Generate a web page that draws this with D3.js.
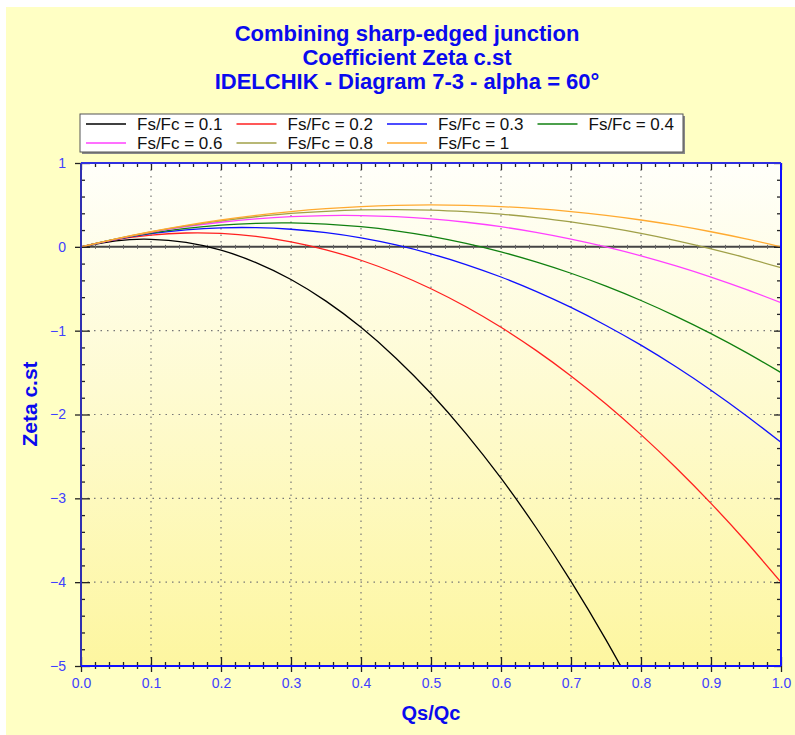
<!DOCTYPE html>
<html>
<head>
<meta charset="utf-8">
<script src="https://cdn.jsdelivr.net/npm/d3@7"></script>
<style>
  body { margin: 0; background: #fff; }
  text { font-family: "Liberation Sans", Arial, sans-serif; }
</style>
</head>
<body>
<div class="chart"></div>
<script>
var svgWidth = 795;
var svgHeight = 735;

// Qs/Qc sample points
var qs = [0, 0.05, 0.1, 0.15, 0.2, 0.25, 0.3, 0.35, 0.4, 0.45, 0.5,
          0.55, 0.6, 0.65, 0.7, 0.75, 0.8, 0.85, 0.9, 0.95, 1.0];

// Zeta c.st values, one array per Fs/Fc
var zeta01 = [0, 0.072, 0.09, 0.052, -0.04, -0.188, -0.39, -0.648, -0.96, -1.328, -1.75,
              -2.228, -2.76, -3.348, -3.99, -4.688, -5.44];
var zeta02 = [0, 0.085, 0.14, 0.165, 0.16, 0.125, 0.06, -0.035, -0.16, -0.315, -0.5,
              -0.715, -0.96, -1.235, -1.54, -1.875, -2.24, -2.635, -3.06, -3.515, -4.0];
var zeta03 = [0, 0.089, 0.157, 0.203, 0.227, 0.229, 0.21, 0.169, 0.107, 0.023, -0.083,
              -0.211, -0.36, -0.531, -0.723, -0.938, -1.173, -1.431, -1.71, -2.011, -2.333];
var zeta04 = [0, 0.091, 0.165, 0.221, 0.26, 0.281, 0.285, 0.271, 0.24, 0.191, 0.125,
              0.041, -0.06, -0.179, -0.315, -0.469, -0.64, -0.829, -1.035, -1.259, -1.5];
var zeta06 = [0, 0.093, 0.173, 0.24, 0.293, 0.333, 0.36, 0.373, 0.373, 0.36, 0.333,
              0.293, 0.24, 0.173, 0.093, 0, -0.107, -0.227, -0.36, -0.507, -0.667];
var zeta08 = [0, 0.094, 0.178, 0.249, 0.31, 0.359, 0.398, 0.424, 0.44, 0.444, 0.438,
              0.419, 0.39, 0.349, 0.298, 0.234, 0.16, 0.074, -0.023, -0.131, -0.25];
var zeta10 = [0, 0.095, 0.18, 0.255, 0.32, 0.375, 0.42, 0.455, 0.48, 0.495, 0.5,
              0.495, 0.48, 0.455, 0.42, 0.375, 0.32, 0.255, 0.18, 0.095, 0];

var seriesNames = ["Fs/Fc = 0.1", "Fs/Fc = 0.2", "Fs/Fc = 0.3", "Fs/Fc = 0.4",
                   "Fs/Fc = 0.6", "Fs/Fc = 0.8", "Fs/Fc = 1"];
var seriesValues = [zeta01, zeta02, zeta03, zeta04, zeta06, zeta08, zeta10];
var seriesColors = ["#000000", "#ff2020", "#1010ff", "#108010", "#ff40ff", "#a0a048", "#ffaa30"];

var titleLines = ["Combining sharp-edged junction", "Coefficient Zeta c.st",
                  "IDELCHIK - Diagram 7-3 - alpha = 60°"];
var xTicks = [0, 0.1, 0.2, 0.3, 0.4, 0.5, 0.6, 0.7, 0.8, 0.9, 1.0];
var yTicks = [1, 0, -1, -2, -3, -4, -5];

var svg = d3.select(".chart")
  .append("svg")
  .attr("width", svgWidth)
  .attr("height", svgHeight);

var defs = svg.append("defs");
var grad = defs.append("linearGradient").attr("id", "plotbg")
  .attr("x1", 0).attr("y1", 0).attr("x2", 0).attr("y2", 1);
grad.append("stop").attr("offset", "0%").attr("stop-color", "#fffffa");
grad.append("stop").attr("offset", "100%").attr("stop-color", "#fdf6a0");

// outer panel
svg.append("rect").attr("x", 6).attr("y", 7)
  .attr("width", svgWidth - 6).attr("height", svgHeight - 7)
  .attr("fill", "#ffffc4");

var x = d3.scaleLinear().domain([0, 1]).range([81, 781]);
var y = d3.scaleLinear().domain([-5, 1]).range([666, 163]);

// plot background
svg.append("rect")
  .attr("x", x(0)).attr("y", y(1))
  .attr("width", x(1) - x(0)).attr("height", y(-5) - y(1))
  .attr("fill", "url(#plotbg)");

defs.append("clipPath").attr("id", "clip")
  .append("rect")
  .attr("x", x(0)).attr("y", y(1))
  .attr("width", x(1) - x(0)).attr("height", y(-5) - y(1));

// dotted grid
svg.append("g").selectAll("line")
  .data(xTicks.slice(1, -1))
  .enter().append("line")
  .attr("x1", d => x(d)).attr("x2", d => x(d))
  .attr("y1", y(1)).attr("y2", y(-5))
  .attr("stroke", "#777").attr("stroke-width", 1.2)
  .attr("stroke-dasharray", "1.5,5");

svg.append("g").selectAll("line")
  .data([-1, -2, -3, -4])
  .enter().append("line")
  .attr("x1", x(0)).attr("x2", x(1))
  .attr("y1", d => y(d)).attr("y2", d => y(d))
  .attr("stroke", "#777").attr("stroke-width", 1.2)
  .attr("stroke-dasharray", "1.5,5");

// zero line with small ticks
svg.append("line")
  .attr("x1", x(0)).attr("x2", x(1))
  .attr("y1", y(0)).attr("y2", y(0))
  .attr("stroke", "#444").attr("stroke-width", 2);
svg.append("g")
  .attr("transform", `translate(0, ${y(0)})`)
  .call(d3.axisBottom(x).tickValues(d3.range(0, 51).map(i => i / 50)).tickSize(2).tickFormat(""))
  .call(g => g.select(".domain").remove())
  .call(g => g.selectAll(".tick line").attr("y1", -2).attr("stroke", "#666"));

// curves
var line = d3.line()
  .x((d, i) => x(qs[i]))
  .y(d => y(d))
  .curve(d3.curveNatural);

svg.append("g").attr("clip-path", "url(#clip)")
  .selectAll("path")
  .data(seriesValues)
  .enter().append("path")
  .attr("d", d => line(d))
  .attr("fill", "none")
  .attr("stroke", (d, i) => seriesColors[i])
  .attr("stroke-width", 1.3);

// minor ticks
var xMinor = d3.range(0, 51).map(i => i / 50).filter(v => Math.round(v * 50) % 5 != 0);
var yMinor = d3.range(-25, 6).map(i => i / 5).filter(v => Math.round(v * 5) % 5 != 0);

function tickLines(sel) {
  sel.selectAll(".tick line").attr("stroke", "#222").attr("stroke-width", 1.3);
}

// bottom axis
var bottomAxis = svg.append("g").attr("transform", `translate(0, ${y(-5)})`);
bottomAxis.call(d3.axisBottom(x).tickValues(xMinor).tickSize(3).tickFormat(""))
  .call(g => g.select(".domain").remove())
  .call(g => g.selectAll(".tick line").attr("y1", -4));
bottomAxis.append("g")
  .call(d3.axisBottom(x).tickValues(xTicks).tickSize(0).tickPadding(12).tickFormat(d3.format(".1f")))
  .call(g => g.select(".domain").remove())
  .call(g => g.selectAll(".tick").append("line").attr("y1", -9).attr("y2", 6))
  .call(g => g.selectAll("text").attr("fill", "#4040ff").attr("font-size", 14));
tickLines(bottomAxis);

// left axis
var leftAxis = svg.append("g").attr("transform", `translate(${x(0)}, 0)`);
leftAxis.call(d3.axisLeft(y).tickValues(yMinor).tickSize(4).tickFormat(""))
  .call(g => g.select(".domain").remove())
  .call(g => g.selectAll(".tick line").attr("x2", 4));
leftAxis.append("g")
  .call(d3.axisLeft(y).tickValues(yTicks).tickSize(0).tickPadding(15).tickFormat(d3.format("d")))
  .call(g => g.select(".domain").remove())
  .call(g => g.selectAll(".tick").append("line").attr("x1", -6).attr("x2", 9))
  .call(g => g.selectAll("text").attr("fill", "#4040ff").attr("font-size", 14));
tickLines(leftAxis);

// top axis (inward ticks)
var topAxis = svg.append("g").attr("transform", `translate(0, ${y(1)})`);
topAxis.call(d3.axisTop(x).tickValues(d3.range(0, 51).map(i => i / 50)).tickSize(0).tickFormat(""))
  .call(g => g.select(".domain").remove())
  .call(g => g.selectAll(".tick line").attr("y1", 0).attr("y2", d => Math.round(d * 50) % 5 == 0 ? 7 : 4));
tickLines(topAxis);

// right axis (inward ticks)
var rightAxis = svg.append("g").attr("transform", `translate(${x(1)}, 0)`);
rightAxis.call(d3.axisRight(y).tickValues(d3.range(-25, 6).map(i => i / 5)).tickSize(0).tickFormat(""))
  .call(g => g.select(".domain").remove())
  .call(g => g.selectAll(".tick line").attr("x1", 0).attr("x2", d => Math.round(d * 5) % 5 == 0 ? -7 : -4));
tickLines(rightAxis);

// frame
svg.append("line").attr("x1", x(0)).attr("x2", x(0)).attr("y1", y(1)).attr("y2", y(-5))
  .attr("stroke", "#3030b0").attr("stroke-width", 2);
svg.append("line").attr("x1", x(0)).attr("x2", x(1)).attr("y1", y(-5)).attr("y2", y(-5))
  .attr("stroke", "#1010ff").attr("stroke-width", 2);
svg.append("line").attr("x1", x(1)).attr("x2", x(1)).attr("y1", y(1)).attr("y2", y(-5))
  .attr("stroke", "#1010ff").attr("stroke-width", 2);
svg.append("line").attr("x1", x(0)).attr("x2", x(1)).attr("y1", y(1)).attr("y2", y(1))
  .attr("stroke", "#3030e0").attr("stroke-width", 2);

// title
svg.append("g").selectAll("text")
  .data(titleLines)
  .enter().append("text")
  .attr("x", 407)
  .attr("y", (d, i) => 41 + i * 24)
  .attr("text-anchor", "middle")
  .attr("fill", "#0a0aee")
  .attr("font-size", 22)
  .attr("font-weight", "bold")
  .text(d => d);

// axis labels
svg.append("text")
  .attr("x", 431).attr("y", 720)
  .attr("text-anchor", "middle")
  .attr("fill", "#0a0aee")
  .attr("font-size", 20)
  .attr("font-weight", "bold")
  .text("Qs/Qc");

svg.append("text")
  .attr("transform", "translate(37, 404) rotate(-90)")
  .attr("text-anchor", "middle")
  .attr("fill", "#0a0aee")
  .attr("font-size", 21)
  .attr("font-weight", "bold")
  .text("Zeta c.st");

// legend
var legend = svg.append("g");
legend.append("rect").attr("x", 82).attr("y", 116).attr("width", 603).attr("height", 38)
  .attr("fill", "#888");
legend.append("rect").attr("x", 80).attr("y", 114).attr("width", 603).attr("height", 38)
  .attr("fill", "#fff").attr("stroke", "#555").attr("stroke-width", 1);

var items = legend.selectAll("g.item")
  .data(seriesNames)
  .enter().append("g")
  .attr("class", "item")
  .attr("transform", (d, i) => `translate(${86 + (i % 4) * 150.5}, ${124 + Math.floor(i / 4) * 19})`);
items.append("line")
  .attr("x1", 0).attr("x2", 40)
  .attr("stroke", (d, i) => seriesColors[i])
  .attr("stroke-width", 1.3);
items.append("text")
  .attr("x", 51).attr("y", 6)
  .attr("font-size", 17)
  .attr("fill", "#111")
  .text(d => d);
</script>
</body>
</html>
